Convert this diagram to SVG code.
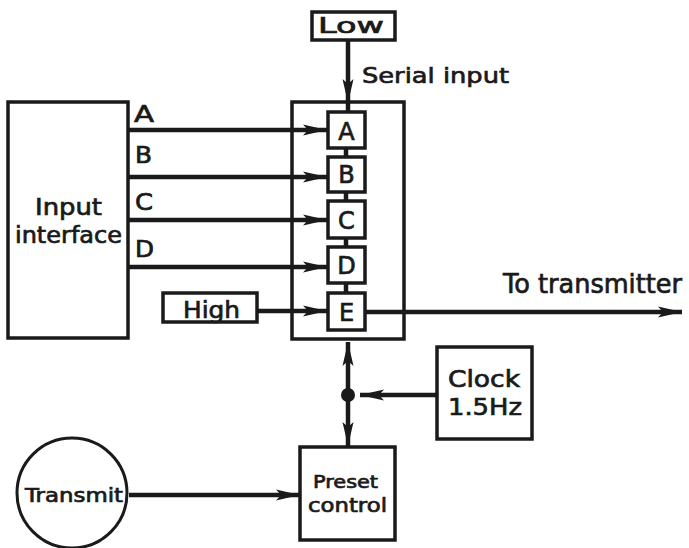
<svg xmlns="http://www.w3.org/2000/svg" width="689" height="548" viewBox="0 0 689 548">
<style>
.box{fill:#fff;stroke:#1a1a1a;stroke-width:3.5}
.ln{fill:none;stroke:#1a1a1a;stroke-width:4.5}
.t{font-family:"DejaVu Sans",sans-serif;fill:#1a1a1a;stroke:#1a1a1a;stroke-width:0.7}
</style>
<defs>
<marker id="ah" markerUnits="userSpaceOnUse" markerWidth="26" markerHeight="14" refX="24" refY="7" orient="auto">
<path d="M0,1.5 L24,7 L0,12.5 L5,7 Z" fill="#1a1a1a"/>
</marker>
</defs>
<rect width="689" height="548" fill="#fff"/>
<g id="connectors">
<line class="ln" x1="348" y1="40" x2="348" y2="103" marker-end="url(#ah)"/>
<line class="ln" x1="348" y1="103" x2="348" y2="112"/>
<line class="ln" x1="128" y1="130" x2="327" y2="130" marker-end="url(#ah)"/>
<line class="ln" x1="128" y1="177" x2="327" y2="177" marker-end="url(#ah)"/>
<line class="ln" x1="128" y1="220" x2="327" y2="220" marker-end="url(#ah)"/>
<line class="ln" x1="128" y1="267" x2="327" y2="267" marker-end="url(#ah)"/>
<line class="ln" x1="257" y1="311" x2="327" y2="311" marker-end="url(#ah)"/>
<line class="ln" x1="346" y1="148" x2="346" y2="157"/>
<line class="ln" x1="346" y1="192" x2="346" y2="201"/>
<line class="ln" x1="346" y1="238" x2="346" y2="247"/>
<line class="ln" x1="346" y1="283" x2="346" y2="293"/>
<line class="ln" x1="365" y1="312" x2="682" y2="312" marker-end="url(#ah)"/>
<line class="ln" x1="348" y1="395" x2="348" y2="342" marker-end="url(#ah)"/>
<line class="ln" x1="348" y1="395" x2="348" y2="446" marker-end="url(#ah)"/>
<line class="ln" x1="437" y1="395" x2="360" y2="395" marker-end="url(#ah)"/>
<circle cx="348" cy="395" r="7" fill="#1a1a1a"/>
<line class="ln" x1="129" y1="495" x2="300" y2="495" marker-end="url(#ah)"/>
</g>
<g id="low">
<rect class="box" x="312" y="12" width="83" height="28"/>
<text class="t" x="318" y="33" font-size="21" textLength="66" lengthAdjust="spacingAndGlyphs">Low</text>
</g>
<text class="t" x="362" y="83" font-size="22" textLength="147" lengthAdjust="spacingAndGlyphs">Serial input</text>
<g id="input-interface">
<rect class="box" x="8" y="102" width="120" height="236"/>
<text class="t" x="35" y="215" font-size="23" textLength="67" lengthAdjust="spacingAndGlyphs">Input</text>
<text class="t" x="15" y="243" font-size="23" textLength="107" lengthAdjust="spacingAndGlyphs">interface</text>
</g>
<g id="labels">
<text class="t" x="134" y="122" font-size="23" textLength="20" lengthAdjust="spacingAndGlyphs">A</text>
<text class="t" x="135" y="163" font-size="23" textLength="17" lengthAdjust="spacingAndGlyphs">B</text>
<text class="t" x="135" y="210" font-size="23" textLength="18" lengthAdjust="spacingAndGlyphs">C</text>
<text class="t" x="135" y="257" font-size="23" textLength="19" lengthAdjust="spacingAndGlyphs">D</text>
</g>
<g id="register">
<rect x="292" y="102" width="112" height="237" fill="none" stroke="#1a1a1a" stroke-width="3.5"/>
</g>
<g id="stage-a"><rect class="box" x="328" y="112" width="37" height="36"/><text class="t" x="346.5" y="140" font-size="24" text-anchor="middle">A</text></g>
<g id="stage-b"><rect class="box" x="328" y="157" width="37" height="35"/><text class="t" x="346.5" y="183" font-size="24" text-anchor="middle">B</text></g>
<g id="stage-c"><rect class="box" x="328" y="201" width="37" height="37"/><text class="t" x="346.5" y="229" font-size="24" text-anchor="middle">C</text></g>
<g id="stage-d"><rect class="box" x="328" y="247" width="37" height="36"/><text class="t" x="346.5" y="274" font-size="24" text-anchor="middle">D</text></g>
<g id="stage-e"><rect class="box" x="328" y="293" width="37" height="37"/><text class="t" x="346.5" y="321" font-size="24" text-anchor="middle">E</text></g>
<g id="high">
<rect class="box" x="163" y="293" width="94" height="29"/>
<text class="t" x="183" y="318" font-size="23" textLength="57" lengthAdjust="spacingAndGlyphs">High</text>
</g>
<text class="t" x="503" y="293" font-size="26" textLength="179" lengthAdjust="spacingAndGlyphs">To transmitter</text>
<g id="clock">
<rect class="box" x="437" y="347" width="95" height="92"/>
<text class="t" x="448" y="387" font-size="23" textLength="72" lengthAdjust="spacingAndGlyphs">Clock</text>
<text class="t" x="448" y="415" font-size="23" textLength="74" lengthAdjust="spacingAndGlyphs">1.5Hz</text>
</g>
<g id="preset">
<rect class="box" x="300" y="447" width="95" height="93"/>
<text class="t" x="313" y="488" font-size="18" textLength="65" lengthAdjust="spacingAndGlyphs">Preset</text>
<text class="t" x="308" y="512" font-size="19" textLength="79" lengthAdjust="spacingAndGlyphs">control</text>
</g>
<g id="transmit">
<circle cx="72" cy="493" r="55" fill="#fff" stroke="#1a1a1a" stroke-width="3"/>
<text class="t" x="25" y="502" font-size="19" textLength="98" lengthAdjust="spacingAndGlyphs">Transmit</text>
</g>
</svg>
